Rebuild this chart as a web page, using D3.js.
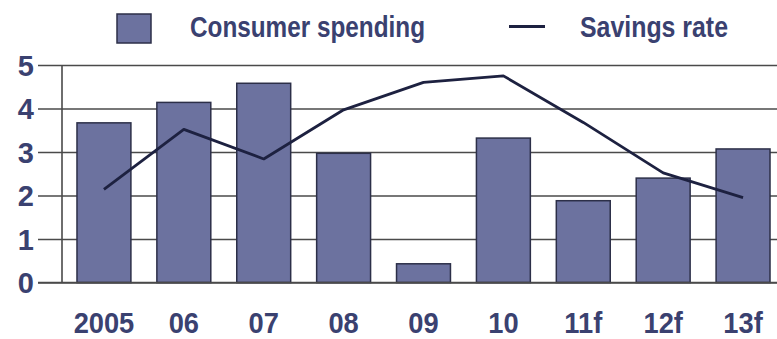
<!DOCTYPE html>
<html>
<head>
<meta charset="utf-8">
<script src="https://cdn.jsdelivr.net/npm/d3@7"></script>
<style>
  html, body { margin: 0; padding: 0; background: #fff; }
  svg { display: block; }
  text { font-family: "Liberation Sans", Arial, sans-serif; }
</style>
</head>
<body>
<svg id="chart" width="777" height="339"></svg>
<script>
// Consumer spending (bars) and savings rate (line), % change / %
const years = ["2005", "06", "07", "08", "09", "10", "11f", "12f", "13f"];
const consumerSpending = [3.67, 4.14, 4.58, 2.97, 0.43, 3.32, 1.88, 2.40, 3.07];
const savingsRate = [2.14, 3.52, 2.84, 3.97, 4.60, 4.75, 3.68, 2.52, 1.95];
const yTicks = [0, 1, 2, 3, 4, 5];
const legendLabels = ["Consumer spending", "Savings rate"];

const svg = d3.select("#chart");
const W = 777;

const x = d3.scaleBand()
  .domain(years)
  .range([64, 783])
  .paddingInner(0.325)
  .paddingOuter(0.1625);

const y = d3.scaleLinear()
  .domain([0, 5])
  .range([282.5, 65]);

const textColor = "#3a4170";
const gridColor = "#4a4a4a";

// Horizontal gridlines, extending left past the axis as ticks
const yAxis = d3.axisLeft(y)
  .tickValues(yTicks)
  .tickSize(-(W - 38))
  .tickPadding(5)
  .tickFormat(d3.format("d"));

const gy = svg.append("g")
  .attr("transform", "translate(38,0)")
  .call(yAxis);
gy.select(".domain").remove();
gy.selectAll(".tick line")
  .attr("stroke", gridColor)
  .attr("stroke-width", 1.6);
gy.selectAll(".tick text")
  .attr("fill", textColor)
  .attr("font-size", 29)
  .attr("font-weight", "bold")
  .attr("x", -4)
  .attr("dy", "0.36em");

// Vertical axis line
svg.append("line")
  .attr("x1", 62).attr("x2", 62)
  .attr("y1", y(5)).attr("y2", y(0))
  .attr("stroke", gridColor)
  .attr("stroke-width", 1.6);

// Bars
svg.append("g")
  .selectAll("rect")
  .data(years)
  .join("rect")
  .attr("x", d => x(d))
  .attr("width", x.bandwidth())
  .attr("y", (d, i) => y(consumerSpending[i]))
  .attr("height", (d, i) => y(0) - y(consumerSpending[i]))
  .attr("fill", "#6c729f")
  .attr("stroke", "#2c2f48")
  .attr("stroke-width", 1.5);

// Baseline over bar bottoms
svg.append("line")
  .attr("x1", 38).attr("x2", W)
  .attr("y1", y(0)).attr("y2", y(0))
  .attr("stroke", gridColor)
  .attr("stroke-width", 1.6);

// Savings rate line
const line = d3.line()
  .x((d, i) => x(years[i]) + x.bandwidth() / 2)
  .y(d => y(d));

svg.append("path")
  .datum(savingsRate)
  .attr("d", line)
  .attr("fill", "none")
  .attr("stroke", "#1d2140")
  .attr("stroke-width", 2.8)
  .attr("stroke-linejoin", "round");

// Category labels
const xAxis = d3.axisBottom(x).tickSize(0).tickPadding(0);
const gx = svg.append("g")
  .attr("transform", "translate(0,312)")
  .call(xAxis);
gx.select(".domain").remove();
gx.selectAll(".tick text")
  .attr("fill", textColor)
  .attr("font-size", 29)
  .attr("font-weight", "bold")
  .attr("dy", "0.71em")
  .attr("transform", function () {
    return "scale(0.94,1)";
  })
  .attr("x", function (d) {
    return 0;
  });

// Legend
const legend = svg.append("g");
legend.append("rect")
  .attr("x", 117).attr("y", 14)
  .attr("width", 34).attr("height", 29)
  .attr("fill", "#6c729f")
  .attr("stroke", "#2c2f48")
  .attr("stroke-width", 1.5);
legend.append("text")
  .attr("x", 190).attr("y", 37)
  .attr("font-size", 29)
  .attr("font-weight", "bold")
  .attr("fill", textColor)
  .attr("textLength", 235)
  .attr("lengthAdjust", "spacingAndGlyphs")
  .text(legendLabels[0]);
legend.append("line")
  .attr("x1", 509).attr("x2", 545)
  .attr("y1", 26.5).attr("y2", 26.5)
  .attr("stroke", "#1d2140")
  .attr("stroke-width", 3);
legend.append("text")
  .attr("x", 580).attr("y", 37)
  .attr("font-size", 29)
  .attr("font-weight", "bold")
  .attr("fill", textColor)
  .attr("textLength", 148)
  .attr("lengthAdjust", "spacingAndGlyphs")
  .text(legendLabels[1]);
</script>
</body>
</html>
